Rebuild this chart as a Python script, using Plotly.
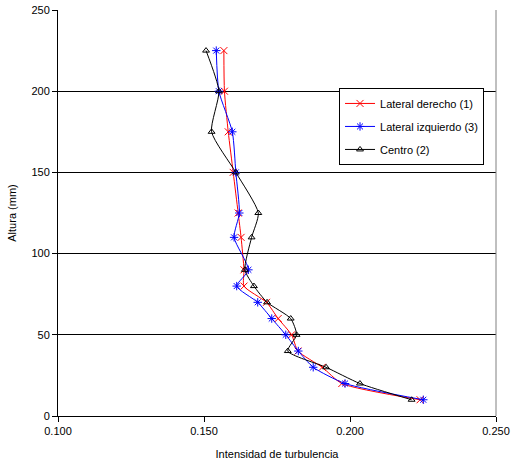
import plotly.graph_objects as go

# Height above the floor (mm)
altura = [10, 20, 30, 40, 50, 60, 70, 80, 90, 110, 125, 150, 175, 200, 225]

# Turbulence intensity per measuring line
lateral_derecho = [0.2240, 0.1972, 0.1905, 0.1822, 0.1800, 0.1754, 0.1714, 0.1637,
                   0.1637, 0.1627, 0.1617, 0.1600, 0.1583, 0.1570, 0.1568]
lateral_izquierdo = [0.2251, 0.1983, 0.1874, 0.1823, 0.1780, 0.1732, 0.1684, 0.1612,
                     0.1652, 0.1603, 0.1621, 0.1609, 0.1597, 0.1551, 0.1542]
centro = [0.2211, 0.2034, 0.1918, 0.1787, 0.1817, 0.1797, 0.1716, 0.1671,
          0.1640, 0.1663, 0.1686, 0.1609, 0.1526, 0.1551, 0.1507]

x_ticks = [0.100, 0.150, 0.200, 0.250]
y_ticks = [0, 50, 100, 150, 200, 250]

series = [
    ("Lateral derecho (1)", lateral_derecho, "#FF0000", "x-thin-open", 7),
    ("Lateral izquierdo (3)", lateral_izquierdo, "#0000FF", "asterisk-open", 7),
    ("Centro (2)", centro, "#000000", "triangle-up-open", 6),
]

fig = go.Figure()
for name, vals, color, symbol, size in series:
    fig.add_trace(go.Scatter(
        x=vals, y=altura, name=name, legendgroup=name, mode="lines+markers",
        line=dict(color=color, width=1, shape="spline", smoothing=0.6),
        marker=dict(symbol=symbol, size=size, color=color,
                    line=dict(color=color, width=1)),
    ))

font = dict(family="Liberation Sans, Arial, sans-serif", size=11, color="#000000")

fig.update_layout(
    width=513, height=462,
    margin=dict(l=58, r=17, t=10, b=46),
    paper_bgcolor="#FFFFFF", plot_bgcolor="#FFFFFF",
    font=font,
    showlegend=True,
    legend=dict(
        x=0.6416, y=0.808, xanchor="left", yanchor="top",
        bgcolor="#FFFFFF", bordercolor="#000000", borderwidth=1,
        font=dict(family="Liberation Sans, Arial, sans-serif", size=11),
        tracegroupgap=4, itemwidth=30,
    ),
    xaxis=dict(
        range=[0.100, 0.250], tickvals=x_ticks, tickformat=".3f",
        showgrid=False, zeroline=False, automargin=False,
        showline=True, linecolor="#000000", linewidth=1,
        ticks="outside", ticklen=5, tickcolor="#000000",
        title=dict(text="Intensidad de turbulencia", standoff=14, font=font),
    ),
    yaxis=dict(
        range=[0, 250], tickvals=y_ticks, automargin=False,
        showgrid=True, gridcolor="#000000", gridwidth=1, zeroline=False,
        showline=True, linecolor="#000000", linewidth=1,
        ticks="outside", ticklen=5, tickcolor="#000000",
        title=dict(text="Altura (mm)", standoff=12, font=font),
    ),
    shapes=[dict(type="line", xref="paper", yref="paper", x0=1, x1=1, y0=0, y1=1,
                 line=dict(color="#808080", width=1))],
)

fig.write_html("out.html")
